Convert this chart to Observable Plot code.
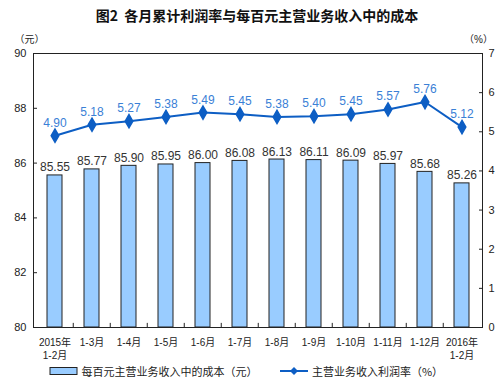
<!DOCTYPE html>
<html><head><meta charset="utf-8">
<script src="https://cdn.jsdelivr.net/npm/d3@7"></script>
<script src="https://cdn.jsdelivr.net/npm/@observablehq/plot@0.6"></script>
<style>
body{margin:0;background:#fff;font-family:"Liberation Sans","Noto Sans CJK SC",sans-serif;}
#title{height:30px;line-height:30px;text-align:center;font-size:14px;font-weight:bold;font-family:"Noto Sans CJK SC",sans-serif;color:#111;padding-left:14px;}
#legend{height:22px;display:flex;align-items:center;justify-content:center;font-size:11px;font-family:"Noto Sans CJK SC",sans-serif;color:#222;padding-left:14px;}
#legend span{margin-right:22px;display:flex;align-items:center;}
</style></head><body>
<div id="title">图2&nbsp;&nbsp;各月累计利润率与每百元主营业务收入中的成本</div>
<div id="chart"></div>
<div id="legend"></div>
<script>
const categories = ["2015年\n1-2月","1-3月","1-4月","1-5月","1-6月","1-7月","1-8月","1-9月","1-10月","1-11月","1-12月","2016年\n1-2月"];
const costValues = [85.55,85.77,85.90,85.95,86.00,86.08,86.13,86.11,86.09,85.97,85.68,85.26];
const profitRates = [4.90,5.18,5.27,5.38,5.49,5.45,5.38,5.40,5.45,5.57,5.76,5.12];
const leftTicks = [80,82,84,86,88,90];
const rightTicks = [0,1,2,3,4,5,6,7];
const leftDomain = [80,90];
const rightDomain = [0,7];
const seriesNames = ["每百元主营业务收入中的成本（元）","主营业务收入利润率（%）"];

const toLeft = v => leftDomain[0] + (v - rightDomain[0]) * (leftDomain[1]-leftDomain[0])/(rightDomain[1]-rightDomain[0]);
const toRight = v => rightDomain[0] + (v - leftDomain[0]) * (rightDomain[1]-rightDomain[0])/(leftDomain[1]-leftDomain[0]);

const barData = categories.map((c,i)=>({cat:c, v:costValues[i]}));
const lineData = categories.map((c,i)=>({cat:c, r:profitRates[i], y:toLeft(profitRates[i])}));

const lineColor = "#0d5ec4";
const labelBlue = "#3a80d6";

const plot = Plot.plot({
  width: 500, height: 330,
  marginTop: 23, marginBottom: 33, marginLeft: 33, marginRight: 18,
  style: {fontFamily: '"Liberation Sans","Noto Sans CJK SC",sans-serif', fontSize: "10px", color:"#222"},
  x: {domain: categories, paddingInner: 0.6, paddingOuter: 0.3},
  y: {domain: leftDomain},
  marks: [
    Plot.rectY(barData, {x:"cat", y1: leftDomain[0], y2:"v", fill:"#99ccff", stroke:"#222", strokeWidth:1}),
    Plot.text(barData, {x:"cat", y:"v", text: d=>d.v.toFixed(2), lineAnchor:"bottom", dy:-4, fontSize:12, fill:"#333"}),
    Plot.line(lineData, {x:"cat", y:"y", stroke:lineColor, strokeWidth:2}),
    Plot.dot(lineData, {x:"cat", y:"y", symbol:"diamond", r:4, fill:lineColor, stroke:lineColor}),
    Plot.text(lineData, {x:"cat", y:"y", text: d=>d.r.toFixed(2), lineAnchor:"bottom", dy:-9, fontSize:12, fill:labelBlue}),
    Plot.ruleX(categories.slice(1), {x: d=>d, dx: -18.75, y1: leftDomain[0], y2: leftDomain[0]+0.15, stroke:"#222"}),
    Plot.frame({stroke:"#222"}),
    Plot.axisY({anchor:"left", ticks:leftTicks, tickSize:-4, tickPadding:11, label:null, fontSize:11}),
    Plot.axisY({anchor:"right", ticks: rightTicks.map(toLeft), tickFormat: d=>String(Math.round(toRight(d))), tickSize:-4, tickPadding:10, label:null, fontSize:11}),
    Plot.axisX({anchor:"bottom", tickSize:0, tickPadding:10, label:null, fontSize:10, lineHeight:1.25}),
    Plot.text(["（元）"], {frameAnchor:"top-left", dx:-4, dy:-18, text:d=>d, textAnchor:"middle", fontSize:10}),
    Plot.text(["（%）"], {frameAnchor:"top-right", dx:-4, dy:-18, text:d=>d, textAnchor:"middle", fontSize:10})
  ]
});
document.getElementById("chart").appendChild(plot);

const legend = document.getElementById("legend");
legend.innerHTML =
  `<span><svg width="30" height="10"><rect x="1" y="1.5" width="27" height="7" fill="#99ccff" stroke="#222"/></svg>&nbsp;${seriesNames[0]}</span>` +
  `<span><svg width="30" height="10"><line x1="1" y1="5" x2="29" y2="5" stroke="${lineColor}" stroke-width="2"/><path d="M15,1 L19,5 L15,9 L11,5 Z" fill="${lineColor}"/></svg>&nbsp;${seriesNames[1]}</span>`;
</script>
</body></html>
